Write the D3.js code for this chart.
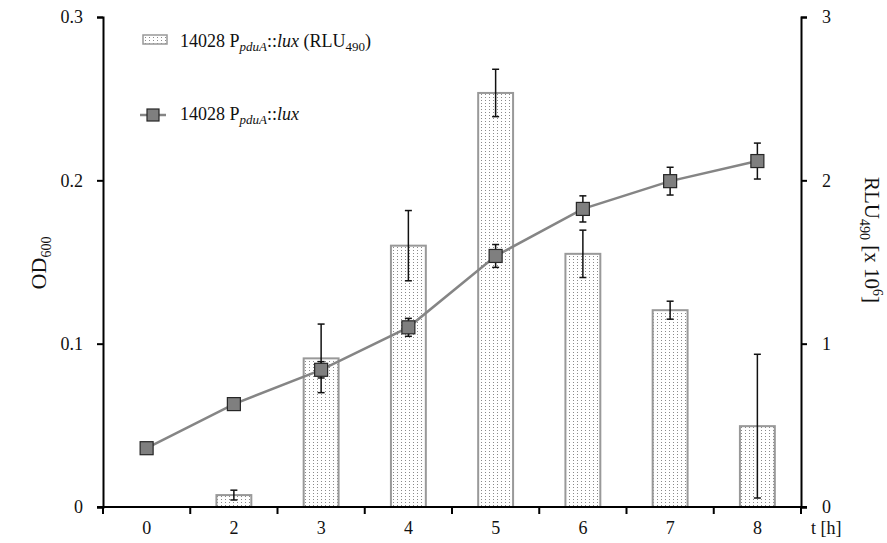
<!DOCTYPE html>
<html>
<head>
<meta charset="utf-8">
<script src="https://cdn.jsdelivr.net/npm/d3@7"></script>
<style>
  body { margin: 0; background: #fff; }
</style>
</head>
<body>
<svg id="chart" width="887" height="543" font-family="'Liberation Serif', 'DejaVu Serif', serif"></svg>
<script>
// sampling times (h)
const hours = ['0', '2', '3', '4', '5', '6', '7', '8']
// luminescence, RLU490 x 10^6 (bars, right axis); no bar at 0 h
const rlu = [null, 0.073, 0.91, 1.6, 2.535, 1.55, 1.205, 0.495]
const rluErr = [0, 0.03, 0.21, 0.215, 0.145, 0.145, 0.055, 0.44]
// growth, OD600 (line, left axis)
const od = [0.036, 0.063, 0.084, 0.110, 0.1537, 0.1825, 0.1995, 0.2118]
const odErr = [0, 0, 0.005, 0.0055, 0.007, 0.008, 0.0085, 0.011]
const odTicks = [0, 0.1, 0.2, 0.3]
const rluTicks = [0, 1, 2, 3]

const svg = d3.select('#chart')
const plotLeft = 103, plotRight = 801, plotTop = 17, plotBottom = 507

const x = d3.scaleBand().domain(hours).range([plotLeft, plotRight]).padding(0)
const yOd = d3.scaleLinear().domain([0, 0.3]).range([plotBottom, plotTop])
const yRlu = d3.scaleLinear().domain([0, 3]).range([plotBottom, plotTop])

const rows = hours.map((h, i) => ({ h, rlu: rlu[i], rluErr: rluErr[i], od: od[i], odErr: odErr[i] }))

// dotted fill for the bars
const defs = svg.append('defs')
const pat = defs.append('pattern')
  .attr('id', 'dots')
  .attr('patternUnits', 'userSpaceOnUse')
  .attr('width', 4).attr('height', 3)
pat.append('rect').attr('width', 4).attr('height', 3).attr('fill', '#fff')
pat.append('rect').attr('x', 1).attr('y', 1).attr('width', 1).attr('height', 1).attr('fill', '#8a8a8a')

const barW = x.bandwidth() * 0.4
const cx = d => x(d.h) + x.bandwidth() / 2

// bars
const barRows = rows.filter(d => d.rlu != null)
svg.append('g').selectAll('rect')
  .data(barRows)
  .join('rect')
  .attr('x', d => cx(d) - barW / 2)
  .attr('y', d => yRlu(d.rlu))
  .attr('width', barW)
  .attr('height', d => yRlu(0) - yRlu(d.rlu))
  .attr('fill', 'url(#dots)')
  .attr('stroke', '#999')
  .attr('stroke-width', 2)

function errorBars (g, data, lo, hi) {
  const e = g.selectAll('g').data(data).join('g')
    .attr('stroke', '#111').attr('stroke-width', 1.5)
  e.append('line')
    .attr('x1', cx).attr('x2', cx)
    .attr('y1', lo).attr('y2', hi)
  e.append('line')
    .attr('x1', d => cx(d) - 3.5).attr('x2', d => cx(d) + 3.5)
    .attr('y1', lo).attr('y2', lo)
  e.append('line')
    .attr('x1', d => cx(d) - 3.5).attr('x2', d => cx(d) + 3.5)
    .attr('y1', hi).attr('y2', hi)
}

svg.append('g').call(errorBars, barRows,
  d => yRlu(d.rlu - d.rluErr), d => yRlu(d.rlu + d.rluErr))

// OD line
const line = d3.line().x(cx).y(d => yOd(d.od))
svg.append('path')
  .datum(rows)
  .attr('d', line)
  .attr('fill', 'none')
  .attr('stroke', '#858585')
  .attr('stroke-width', 2.5)

svg.append('g').call(errorBars, rows.filter(d => d.odErr > 0),
  d => yOd(d.od - d.odErr), d => yOd(d.od + d.odErr))

const ms = 13
svg.append('g').selectAll('rect')
  .data(rows)
  .join('rect')
  .attr('x', d => cx(d) - ms / 2)
  .attr('y', d => yOd(d.od) - ms / 2)
  .attr('width', ms).attr('height', ms)
  .attr('fill', '#7f7f7f')
  .attr('stroke', '#262626')
  .attr('stroke-width', 1.2)

// axes
const axisStyle = g => {
  g.attr('font-family', null)
  g.selectAll('.domain').attr('stroke', '#000').attr('stroke-width', 2)
  g.selectAll('.tick line').attr('stroke', '#000').attr('stroke-width', 2)
  g.selectAll('.tick text').attr('font-size', 18).attr('fill', '#111')
}

svg.append('g')
  .attr('transform', `translate(${plotLeft},0)`)
  .call(d3.axisLeft(yOd).tickValues(odTicks).tickFormat(d => d === 0 ? '0' : d3.format('.1f')(d))
    .tickSizeOuter(0).tickSize(6).tickPadding(14))
  .call(axisStyle)

svg.append('g')
  .attr('transform', `translate(${plotRight},0)`)
  .call(d3.axisRight(yRlu).tickValues(rluTicks).tickFormat(d3.format('d'))
    .tickSizeOuter(0).tickSize(6).tickPadding(15))
  .call(axisStyle)

// x axis: ticks sit on the band edges, labels at band centres
const xg = svg.append('g').attr('transform', `translate(0,${plotBottom})`)
xg.append('line').attr('x1', plotLeft - 6).attr('x2', plotRight + 6)
  .attr('stroke', '#000').attr('stroke-width', 2)
xg.selectAll('line.tk')
  .data(hours.map(h => x(h)).concat([plotRight]))
  .join('line').attr('class', 'tk')
  .attr('x1', d => d).attr('x2', d => d)
  .attr('y1', 0).attr('y2', 7)
  .attr('stroke', '#000').attr('stroke-width', 2)
xg.selectAll('text')
  .data(hours)
  .join('text')
  .attr('x', h => x(h) + x.bandwidth() / 2)
  .attr('y', 27)
  .attr('text-anchor', 'middle')
  .attr('font-size', 18).attr('fill', '#111')
  .text(d => d)
xg.append('text')
  .attr('x', 811).attr('y', 27)
  .attr('font-size', 18).attr('fill', '#111')
  .text('t [h]')

// axis titles
const odTitle = svg.append('text')
  .attr('transform', 'translate(46,263) rotate(-90)')
  .attr('text-anchor', 'middle')
  .attr('font-size', 22).attr('fill', '#111')
odTitle.append('tspan').text('OD')
odTitle.append('tspan').attr('font-size', 14).attr('dy', 5).text('600')

const rluTitle = svg.append('text')
  .attr('transform', 'translate(865,240) rotate(90)')
  .attr('text-anchor', 'middle')
  .attr('font-size', 21).attr('fill', '#111')
rluTitle.append('tspan').text('RLU')
rluTitle.append('tspan').attr('font-size', 14).attr('dy', 5).text('490')
rluTitle.append('tspan').attr('dy', -5).text(' [x 10')
rluTitle.append('tspan').attr('font-size', 14).attr('dy', -8).text('6')
rluTitle.append('tspan').attr('dy', 8).text(']')

// legend
const lg = svg.append('g')
lg.append('rect')
  .attr('x', 143).attr('y', 35).attr('width', 24).attr('height', 9)
  .attr('fill', 'url(#dots)').attr('stroke', '#999').attr('stroke-width', 1.5)

function strainLabel (y, withRlu) {
  const txt = lg.append('text').attr('x', 180).attr('y', y)
    .attr('font-size', 18).attr('fill', '#111')
  txt.append('tspan').text('14028 P')
  txt.append('tspan').attr('font-size', 13).attr('font-style', 'italic').attr('dy', 4).text('pduA')
  txt.append('tspan').attr('dy', -4).text('::')
  txt.append('tspan').attr('font-style', 'italic').text('lux')
  if (withRlu) {
    txt.append('tspan').text(' (RLU')
    txt.append('tspan').attr('font-size', 13).attr('dy', 4).text('490')
    txt.append('tspan').attr('dy', -4).text(')')
  }
}
strainLabel(47, true)

lg.append('line')
  .attr('x1', 140).attr('x2', 166).attr('y1', 115).attr('y2', 115)
  .attr('stroke', '#858585').attr('stroke-width', 2.5)
lg.append('rect')
  .attr('x', 147).attr('y', 109).attr('width', 12).attr('height', 12)
  .attr('fill', '#7f7f7f').attr('stroke', '#262626').attr('stroke-width', 1.2)
strainLabel(120, false)
</script>
</body>
</html>
